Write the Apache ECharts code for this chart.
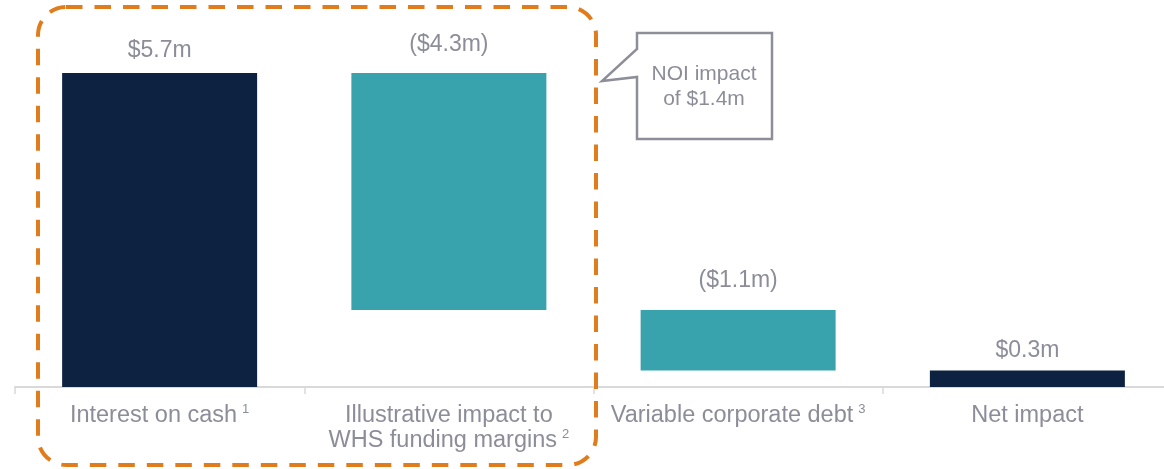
<!DOCTYPE html>
<html>
<head>
<meta charset="utf-8">
<script src="https://cdn.jsdelivr.net/npm/echarts@6/dist/echarts.min.js"></script>
<style>
html,body{margin:0;padding:0;background:#fff;overflow:hidden;}
#c{width:1173px;height:469px;}
</style>
</head>
<body>
<div id="c"></div>
<script>
// ---- data ----
var categories = ['Interest on cash', 'Illustrative impact to\nWHS funding margins', 'Variable corporate debt', 'Net impact'];
var footnotes = ['1', '2', '3', ''];
var values = [5.7, -4.3, -1.1, 0.3];   // last is the net total
var isTotal = [false, false, false, true];
var valueLabels = ['$5.7m', '($4.3m)', '($1.1m)', '$0.3m'];
var calloutText = ['NOI impact', 'of $1.4m'];

// ---- waterfall construction ----
var NAVY = '#0d2240', TEAL = '#38a3ac', GRAY = '#8c8d99';
var labelDist = [11, 17, 18, 8];
var base = [], vis = [];
var run = 0;
for (var i = 0; i < values.length; i++) {
  var v = values[i];
  if (isTotal[i]) { base.push(0); vis.push({value: v, itemStyle: {color: NAVY}}); run = v; }
  else if (v >= 0) { base.push(run); vis.push({value: v, itemStyle: {color: NAVY}}); run += v; }
  else { run += v; base.push(run); vis.push({value: -v, itemStyle: {color: TEAL}}); }
  vis[i].label = {distance: labelDist[i]};
}

var chart = echarts.init(document.getElementById('c'), null, {renderer: 'canvas'});
var FONT = '"Liberation Sans", Arial, sans-serif';
chart.setOption({
  animation: false,
  grid: {left: 15, right: 1, top: 56.5, bottom: 82, containLabel: false},
  xAxis: {
    type: 'category',
    data: categories,
    axisLine: {lineStyle: {color: '#d9d9d9', width: 2}},
    axisTick: {show: true, length: 7, lineStyle: {color: '#d9d9d9', width: 1.5}},
    axisLabel: {
      interval: 0,
      margin: 16,
      color: GRAY,
      fontFamily: FONT,
      fontSize: 23.5,
      lineHeight: 25,
      formatter: function (val, idx) {
        var lines = val.split('\n');
        var out = lines.map(function (l) { return '{a|' + l + '}'; });
        if (footnotes[idx]) out[out.length - 1] += '{s|' + footnotes[idx] + '}';
        return out.join('\n');
      },
      rich: {
        a: {fontSize: 23.5, lineHeight: 25, color: GRAY, fontFamily: FONT},
        s: {fontSize: 13, lineHeight: 25, color: GRAY, fontFamily: FONT, verticalAlign: 'top', padding: [0, 0, 6, 5]}
      }
    }
  },
  yAxis: {type: 'value', min: 0, max: 6, show: false, splitLine: {show: false}},
  series: [
    {type: 'bar', stack: 'w', data: base, itemStyle: {color: 'transparent'}, barWidth: 195, silent: true},
    {
      type: 'bar', stack: 'w', data: vis, barWidth: 195,
      label: {
        show: true, position: 'top', color: GRAY, fontFamily: FONT, fontSize: 23,
        formatter: function (p) { return valueLabels[p.dataIndex]; }
      }
    }
  ],
  graphic: [
    {
      type: 'rect', z: 10,
      shape: {x: 38, y: 7, width: 558, height: 458, r: 28},
      style: {fill: 'none', stroke: '#e07c1c', lineWidth: 4, lineDash: [16.5, 12]}
    },
    {
      type: 'polygon', z: 10,
      shape: {points: [[637, 33], [772, 33], [772, 139], [637, 139], [637, 77], [602, 81], [637, 49]]},
      style: {fill: '#fff', stroke: '#8e8e99', lineWidth: 2.5}
    },
    {
      type: 'text', z: 11,
      style: {
        x: 704, y: 87, text: calloutText.join('\n'), align: 'center', verticalAlign: 'middle',
        fill: GRAY, font: '21px ' + FONT, lineHeight: 25
      }
    }
  ]
});
</script>
</body>
</html>
